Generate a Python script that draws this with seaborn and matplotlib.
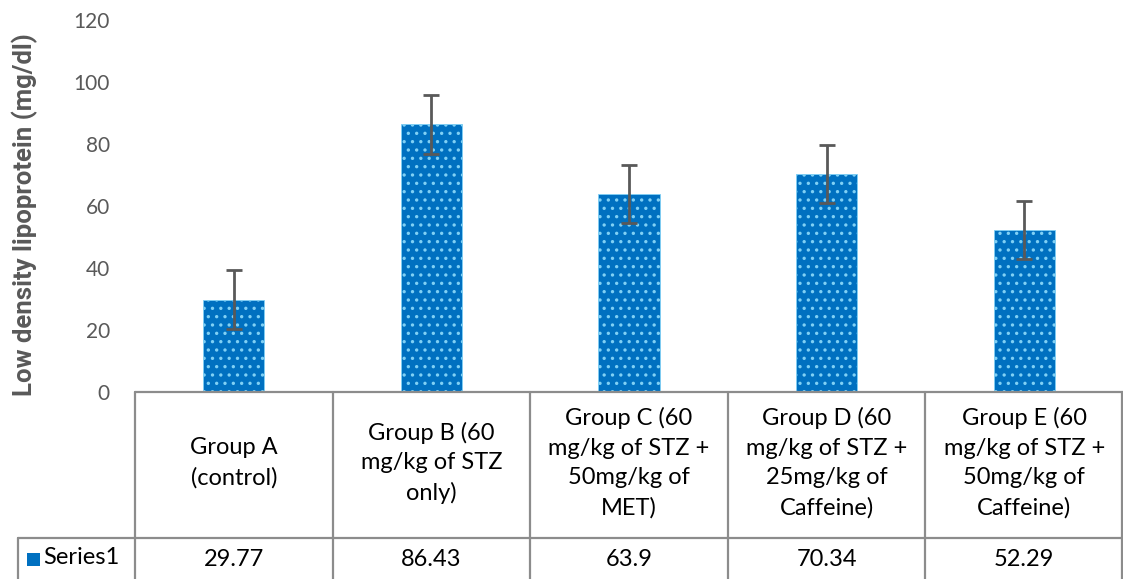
import matplotlib
matplotlib.use("Agg")
import matplotlib.pyplot as plt
import seaborn as sns
import pandas as pd
from matplotlib.lines import Line2D
from matplotlib.patches import Rectangle

categories = ["Group A\n(control)",
              "Group B (60\nmg/kg of STZ\nonly)",
              "Group C (60\nmg/kg of STZ +\n50mg/kg of\nMET)",
              "Group D (60\nmg/kg of STZ +\n25mg/kg of\nCaffeine)",
              "Group E (60\nmg/kg of STZ +\n50mg/kg of\nCaffeine)"]
values = [29.77, 86.43, 63.9, 70.34, 52.29]
errors = [9.6, 9.5, 9.4, 9.4, 9.4]
series_name = "Series1"
y_ticks = [0, 20, 40, 60, 80, 100, 120]
y_label = "Low density lipoprotein (mg/dl)"

sns.set_theme(style="white")
plt.rcParams['font.family'] = ['Lato', 'DejaVu Sans']

W, H = 1123, 579
fig = plt.figure(figsize=(W / 100, H / 100), dpi=100)
left_px, right_px, zero_px, top_px = 135, 1123, 392, 20
ax = fig.add_axes([left_px / W, (H - zero_px) / H, (right_px - left_px) / W, (zero_px - top_px) / H])

df = pd.DataFrame({"cat": categories, "val": values})
bar_color = "#0070C0"
dot_color = "#7fd0f5"
plt.rcParams['hatch.color'] = dot_color
plt.rcParams['hatch.linewidth'] = 1.2
sns.barplot(data=df, x="cat", y="val", ax=ax, color=bar_color, width=0.31,
            saturation=1, errorbar=None)
for p in ax.patches:
    p.set_facecolor(bar_color)
    p.set_hatch("..")
    p.set_edgecolor(dot_color)
    p.set_linewidth(0.6)

ax.errorbar(range(len(values)), values, yerr=errors, fmt="none",
            ecolor="#595959", elinewidth=2, capsize=6, capthick=2, zorder=5)

ax.set_xlim(-0.5, len(values) - 0.5)
ax.set_ylim(0, 120)
ax.set_yticks(y_ticks)
ax.tick_params(axis="y", length=0, pad=18, labelsize=15, labelcolor="#595959")
ax.set_xticks([])
ax.set_xlabel("")
ax.set_ylabel("")
for s in ax.spines.values():
    s.set_visible(False)

fig.text(25 / W, (H - 215) / H, y_label, rotation=90, ha="center", va="center",
         fontsize=18.5, fontweight="bold", color="#595959", family=["Roboto", "DejaVu Sans"])

# data table
line_c = "#8c8c8c"
def fx(px):
    return px / W
def fy(py):
    return (H - py) / H

row1_bottom = 538
col_w = (right_px - left_px) / len(values)
fig.add_artist(Line2D([fx(left_px), fx(right_px)], [fy(zero_px), fy(zero_px)], color=line_c, lw=1.6))
fig.add_artist(Line2D([fx(18), fx(right_px)], [fy(row1_bottom), fy(row1_bottom)], color=line_c, lw=1.6))
for i in range(len(values) + 1):
    x = left_px + i * col_w
    if x >= right_px - 1:
        x = right_px - 1
    fig.add_artist(Line2D([fx(x), fx(x)], [fy(zero_px), fy(H)], color=line_c, lw=1.6))
fig.add_artist(Line2D([fx(18), fx(18)], [fy(row1_bottom), fy(H)], color=line_c, lw=1.6))

for i, (c, v) in enumerate(zip(categories, values)):
    cx = left_px + (i + 0.5) * col_w
    fig.text(fx(cx), fy(463), c, ha="center", va="center", fontsize=17,
             color="black", linespacing=1.5)
    fig.text(fx(cx), fy(559), f"{v:g}", ha="center", va="center", fontsize=17, color="black")

fig.add_artist(Rectangle((fx(27), fy(566)), 13 / W, 13 / H, facecolor=bar_color,
                         edgecolor=bar_color, lw=0))
fig.text(fx(43), fy(558), series_name, ha="left", va="center", fontsize=17, color="black")

fig.savefig("out.png", dpi=100)
